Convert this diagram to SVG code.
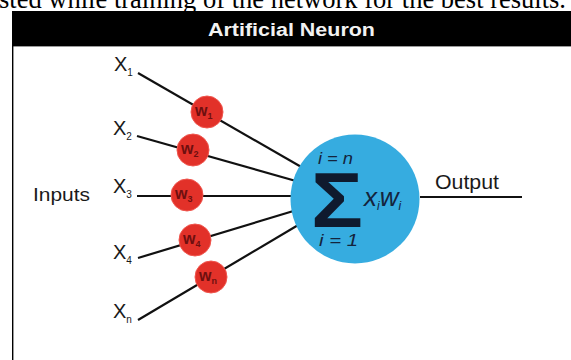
<svg xmlns="http://www.w3.org/2000/svg" width="571" height="360" viewBox="0 0 571 360">
<style>
.lbl{font-family:"Liberation Sans",Arial,sans-serif;fill:#1a1a1a}
.x{font-size:20px}
.sub{font-size:10px}
.wt{font-family:"Liberation Sans",Arial,sans-serif;font-size:16px;font-weight:bold;fill:#6e0f0f}
.wsub{font-size:9px}
.w{fill:#e23129;stroke:#f0564e;stroke-width:1}
.con{stroke:#111;stroke-width:2.2;fill:none}
.math{font-family:"Liberation Sans",Arial,sans-serif;font-style:italic;fill:#14243d}
</style>
<rect x="0" y="0" width="571" height="360" fill="#fff"/>
<text x="-1" y="7.5" font-family="Liberation Serif,'Times New Roman',serif" font-size="26.5" fill="#000" textLength="567" lengthAdjust="spacingAndGlyphs">sted while training of the network for the best results.</text>
<g id="frame">
<rect x="12" y="11" width="559" height="35" fill="#000"/>
<line x1="12" y1="46.5" x2="571" y2="46.5" stroke="#9a9a9a" stroke-width="1"/>
<line x1="12.7" y1="46" x2="12.7" y2="360" stroke="#000" stroke-width="1.4"/>
<text x="208" y="36" font-family="Liberation Sans,Arial,sans-serif" font-size="18" font-weight="bold" fill="#f2f2f2" textLength="167" lengthAdjust="spacingAndGlyphs">Artificial Neuron</text>
</g>
<g id="connectors">
<line class="con" x1="138" y1="73" x2="310" y2="172"/>
<line class="con" x1="137" y1="136" x2="310" y2="185"/>
<line class="con" x1="137" y1="196" x2="310" y2="196"/>
<line class="con" x1="138" y1="258" x2="310" y2="206"/>
<line class="con" x1="138" y1="320" x2="310" y2="218"/>
<line class="con" x1="420" y1="197" x2="522" y2="197"/>
</g>
<g id="inputs-label"><text class="lbl" x="33" y="201" font-size="19" textLength="57" lengthAdjust="spacingAndGlyphs">Inputs</text></g>
<g id="x1"><text class="lbl x" x="114" y="71">X<tspan class="sub" dy="5">1</tspan></text></g>
<g id="x2"><text class="lbl x" x="113" y="135">X<tspan class="sub" dy="5">2</tspan></text></g>
<g id="x3"><text class="lbl x" x="113" y="193">X<tspan class="sub" dy="5">3</tspan></text></g>
<g id="x4"><text class="lbl x" x="113" y="259">X<tspan class="sub" dy="5">4</tspan></text></g>
<g id="xn"><text class="lbl x" x="113" y="318">X<tspan class="sub" dy="5">n</tspan></text></g>
<g id="w1"><circle class="w" cx="207" cy="112" r="16"/><text class="wt" x="195" y="116">w<tspan class="wsub" dy="3">1</tspan></text></g>
<g id="w2"><circle class="w" cx="193" cy="150" r="16"/><text class="wt" x="181" y="154">w<tspan class="wsub" dy="3">2</tspan></text></g>
<g id="w3"><circle class="w" cx="187" cy="195" r="16"/><text class="wt" x="175" y="199">w<tspan class="wsub" dy="3">3</tspan></text></g>
<g id="w4"><circle class="w" cx="195" cy="240" r="16"/><text class="wt" x="183" y="244">w<tspan class="wsub" dy="3">4</tspan></text></g>
<g id="wn"><circle class="w" cx="211" cy="277" r="16"/><text class="wt" x="199" y="281">w<tspan class="wsub" dy="3">n</tspan></text></g>
<g id="neuron">
<circle cx="355" cy="199" r="64.5" fill="#36ace0"/>
<text class="math" x="318" y="164" font-size="17" textLength="35" lengthAdjust="spacingAndGlyphs">i = n</text>
<text x="311" y="227" font-family="Liberation Sans,Arial,sans-serif" font-size="78" font-weight="bold" fill="#0f1a2e" textLength="52" lengthAdjust="spacingAndGlyphs">Σ</text>
<text class="math" x="364" y="206" font-size="26">x<tspan font-size="12" dy="4">i</tspan><tspan dy="-4">w</tspan><tspan font-size="12" dy="4">i</tspan></text>
<text class="math" x="319" y="246" font-size="17" textLength="39" lengthAdjust="spacingAndGlyphs">i = 1</text>
</g>
<g id="output"><text class="lbl" x="435" y="189" font-size="20" textLength="64" lengthAdjust="spacingAndGlyphs">Output</text></g>
</svg>
